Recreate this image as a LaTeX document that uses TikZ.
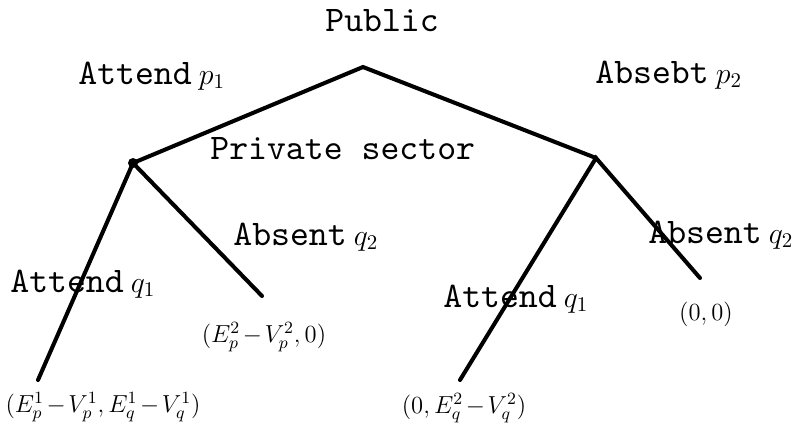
\documentclass[tikz,border=0pt]{standalone}
\usepackage{fix-cm}
\usepackage{fontspec}
\usepackage{amsmath}
\newfontfamily\treefont{lmmono10-regular.otf}
\newcommand{\pr}[1]{{\fontsize{17}{18}\selectfont$#1$}}
\newcommand{\mn}{\mskip2mu{-}\mskip2mu}

\begin{document}
\begin{tikzpicture}[x=0.02cm, y=-0.02cm,
    branch/.style={line width=2.3pt, line cap=round},
    lbl/.style={inner sep=0pt, anchor=base west, font=\fontsize{20.5}{24}\treefont},
    payoff/.style={inner sep=0pt, anchor=base, font=\fontsize{14}{16}\selectfont}]
    \useasboundingbox (0,0) rectangle (805,433);

    % decision points
    \coordinate (public) at (363,67);
    \coordinate (privL) at (133,163);
    \coordinate (privR) at (596,158);
    % ends of the branches
    \coordinate (endLA) at (38,380);
    \coordinate (endLB) at (262,296);
    \coordinate (endRA) at (460,380);
    \coordinate (endRB) at (700,278);

    % Public
    \draw[branch] (privL) -- (public) -- (privR);
    \node[lbl] (pub) at (325,31) {Public};
    \node[lbl] (attP) at (78,84) {Attend\hspace{4pt}\pr{p_{1}}};
    \node[lbl] (absP) at (595,83) {Absebt\hspace{4pt}\pr{p_{2}}};

    % Private sector (left)
    \fill (privL) circle[radius=0.1cm];
    \draw[branch] (endLA) -- (privL) -- (endLB);
    \node[lbl] (priv) at (210,159) {Private sector};
    \node[lbl] (attQL) at (10,292) {Attend\hspace{4pt}\pr{q_{1}}};
    \node[lbl] (absQL) at (233,245) {Absent\hspace{4pt}\pr{q_{2}}};

    % Private sector (right)
    \draw[branch] (endRA) -- (privR) -- (endRB);
    \node[lbl] (attQR) at (443,307) {Attend\hspace{4pt}\pr{q_{1}}};
    \node[lbl] (absQR) at (648,243) {Absent\hspace{4pt}\pr{q_{2}}};

    % payoffs
    \node[payoff] (payLA) at (103,412) {$(E_{p}^{1}\mn V_{p}^{1},E_{q}^{1}\mn V_{q}^{1})$};
    \node[payoff] (payLB) at (264,342) {$(E_{p}^{2}\mn V_{p}^{2},0)$};
    \node[payoff] (payRA) at (464,413) {$(0,E_{q}^{2}\mn V_{q}^{2})$};
    \node[payoff] (payRB) at (706,320) {$(0,0)$};
\end{tikzpicture}
\end{document}
